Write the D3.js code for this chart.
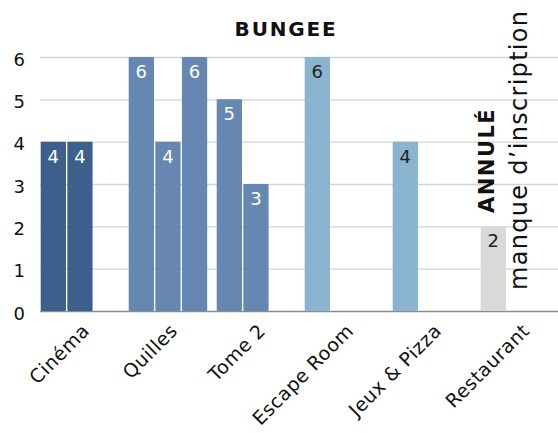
<!DOCTYPE html>
<html>
<head>
<meta charset="utf-8">
<script src="https://cdn.jsdelivr.net/npm/d3@7"></script>
<style>
  body { margin: 0; background: #fff; }
  text { font-family: "DejaVu Sans", sans-serif; }
</style>
</head>
<body>
<svg id="chart" width="558" height="433"></svg>
<script>
const title = "BUNGEE";
const categories = ["Cinéma", "Quilles", "Tome 2", "Escape Room", "Jeux & Pizza", "Restaurant"];
const values = [[4, 4], [6, 4, 6], [5, 3], [6], [4], [2]];
const barColors = ["#3d5f8c", "#6687b1", "#6687b1", "#8ab4cf", "#8ab4cf", "#d9d9d9"];
const labelColors = ["#fff", "#fff", "#fff", "#222", "#222", "#222"];
const yTicks = [0, 1, 2, 3, 4, 5, 6];
const noteBold = "ANNULÉ";
const noteText = "manque d’inscription";

const width = 558, height = 433;
const svg = d3.select("#chart");

const x = d3.scaleBand()
  .domain(categories)
  .range([40.7, 40.7 + categories.length * 88]);
const xSub = d3.scaleBand()
  .domain([0, 1, 2])
  .range([0, 78.5])
  .paddingInner(0.05);
const y = d3.scaleLinear().domain([0, 6]).range([311, 57]);

/* ------- GRID + Y AXIS -------*/
const yAxis = svg.append("g")
  .attr("transform", "translate(40,0)")
  .call(d3.axisLeft(y).tickValues(yTicks).tickSize(-(width - 40)).tickFormat(d3.format("d")));
yAxis.select(".domain").remove();
yAxis.selectAll(".tick line")
  .attr("stroke", d => d === 0 ? "#8c8c8c" : "#d4d4d4")
  .attr("stroke-width", 1.3);
yAxis.selectAll(".tick text")
  .attr("x", -15)
  .attr("dy", "0.45em")
  .attr("fill", "#111")
  .style("font-size", "18px");

/* ------- BARS -------*/
const groups = svg.append("g").selectAll("g")
  .data(categories)
  .join("g")
  .attr("transform", d => `translate(${x(d)},0)`);

groups.selectAll("rect")
  .data((d, i) => values[i].map(v => ({ v, i })))
  .join("rect")
  .attr("x", (d, j) => xSub(j))
  .attr("y", d => y(d.v))
  .attr("width", xSub.bandwidth())
  .attr("height", d => y(0) - y(d.v))
  .attr("rx", 1.2)
  .attr("fill", d => barColors[d.i]);

groups.selectAll("text.val")
  .data((d, i) => values[i].map(v => ({ v, i })))
  .join("text")
  .attr("class", "val")
  .attr("x", (d, j) => xSub(j) + xSub.bandwidth() / 2)
  .attr("y", d => y(d.v) + 21)
  .attr("text-anchor", "middle")
  .attr("fill", d => labelColors[d.i])
  .style("font-size", "18px")
  .text(d => d.v);

/* ------- CATEGORY LABELS -------*/
svg.append("g").selectAll("text")
  .data(categories)
  .join("text")
  .attr("transform", d => `translate(${x(d) + x.bandwidth() / 2 + 6},332) rotate(-45)`)
  .attr("text-anchor", "end")
  .attr("fill", "#111")
  .style("font-size", "19px")
  .style("letter-spacing", "0.5px")
  .text(d => d);

/* ------- TITLE + NOTE -------*/
svg.append("text")
  .attr("x", 286)
  .attr("y", 36)
  .attr("text-anchor", "middle")
  .attr("fill", "#111")
  .style("font-size", "20px")
  .style("font-weight", "bold")
  .style("letter-spacing", "1.8px")
  .text(title);

svg.append("text")
  .attr("transform", "translate(494,213) rotate(-90)")
  .attr("fill", "#111")
  .style("font-size", "21px")
  .style("font-weight", "bold")
  .style("letter-spacing", "1.5px")
  .text(noteBold);

svg.append("text")
  .attr("transform", "translate(527,290) rotate(-90)")
  .attr("fill", "#111")
  .style("font-size", "24px")
  .style("letter-spacing", "1.3px")
  .text(noteText);
</script>
</body>
</html>
